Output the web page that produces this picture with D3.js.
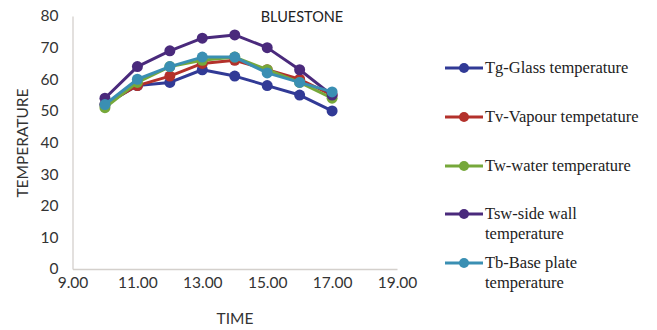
<!DOCTYPE html>
<html>
<head>
<meta charset="utf-8">
<script src="https://cdn.jsdelivr.net/npm/d3@7/dist/d3.min.js"></script>
<style>
  html, body { margin: 0; padding: 0; background: #fff; }
  svg { display: block; }
  .legend-text { font-family: "Liberation Serif", "DejaVu Serif", serif; }
</style>
</head>
<body>
<svg id="chart" width="657" height="330"></svg>
<script>
// Hourly readings (time of day) for the bluestone still
const times = [10, 11, 12, 13, 14, 15, 16, 17];
const tgGlass    = [52, 58, 59, 63, 61, 58, 55, 50];
const tvVapour   = [52, 58, 61, 65, 66, 63, 60, 55];
const twWater    = [51, 59, 64, 66, 67, 63, 59, 54];
const tswWall    = [54, 64, 69, 73, 74, 70, 63, 55];
const tbBase     = [52, 60, 64, 67, 67, 62, 59, 56];

const xTicks = [9, 11, 13, 15, 17, 19];
const yTicks = [0, 10, 20, 30, 40, 50, 60, 70, 80];

const series = [
  { name: ["Tg-Glass temperature"], values: tgGlass, color: "#313a96" },
  { name: ["Tv-Vapour tempetature"], values: tvVapour, color: "#b3312b" },
  { name: ["Tw-water temperature"], values: twWater, color: "#76a83a" },
  { name: ["Tsw-side wall", "temperature"], values: tswWall, color: "#4a2a7c" },
  { name: ["Tb-Base plate", "temperature"], values: tbBase, color: "#3a8fb3" }
];

const svg = d3.select("#chart");
const sans = "Lato, 'Open Sans', sans-serif";

const x = d3.scaleLinear().domain([9, 19]).range([72.5, 397]);
const y = d3.scaleLinear().domain([0, 80]).range([269, 16]);

// Axes: thin grey lines, no tick marks
const xAxis = svg.append("g")
  .attr("transform", `translate(0,${y(0)})`)
  .call(d3.axisBottom(x).tickValues(xTicks).tickSize(0).tickPadding(8)
    .tickFormat(d3.format(".2f")));
const yAxis = svg.append("g")
  .attr("transform", `translate(${x(9)},0)`)
  .call(d3.axisLeft(y).tickValues(yTicks).tickSize(0).tickPadding(14));

[xAxis, yAxis].forEach(g => {
  g.select(".domain").attr("stroke", "#d4d0cc").attr("stroke-width", 1.3);
  g.selectAll("text")
    .attr("font-family", sans)
    .attr("font-size", 15.5)
    .attr("fill", "#333");
});

// Axis titles and chart title
svg.append("text")
  .attr("x", 235).attr("y", 324)
  .attr("text-anchor", "middle")
  .attr("font-family", sans).attr("font-size", 15.5).attr("fill", "#333")
  .text("TIME");
svg.append("text")
  .attr("transform", `translate(28,143) rotate(-90)`)
  .attr("text-anchor", "middle")
  .attr("font-family", sans).attr("font-size", 15.5).attr("fill", "#333")
  .text("TEMPERATURE");
svg.append("text")
  .attr("x", 302).attr("y", 22)
  .attr("text-anchor", "middle")
  .attr("font-family", sans).attr("font-size", 14.5).attr("fill", "#222")
  .text("BLUESTONE");

// Series lines with round markers
const line = d3.line()
  .x((d, i) => x(times[i]))
  .y(d => y(d));

series.forEach(s => {
  const g = svg.append("g");
  g.append("path")
    .datum(s.values)
    .attr("d", line)
    .attr("fill", "none")
    .attr("stroke", s.color)
    .attr("stroke-width", 3)
    .attr("stroke-linejoin", "round");
  g.selectAll("circle")
    .data(s.values)
    .join("circle")
    .attr("cx", (d, i) => x(times[i]))
    .attr("cy", d => y(d))
    .attr("r", 5.5)
    .attr("fill", s.color);
});

// Legend
const legendRows = [68, 117, 166, 214, 263];
const legend = svg.append("g");
series.forEach((s, i) => {
  const ly = legendRows[i];
  const row = legend.append("g");
  row.append("line")
    .attr("x1", 445).attr("x2", 483)
    .attr("y1", ly).attr("y2", ly)
    .attr("stroke", s.color).attr("stroke-width", 3);
  row.append("circle")
    .attr("cx", 464).attr("cy", ly).attr("r", 5)
    .attr("fill", s.color);
  const t = row.append("text")
    .attr("class", "legend-text")
    .attr("x", 485).attr("y", ly + 5)
    .attr("font-size", 16.5).attr("fill", "#222");
  s.name.forEach((part, k) => {
    t.append("tspan")
      .attr("x", 485)
      .attr("dy", k === 0 ? 0 : 19.5)
      .text(part);
  });
});
</script>
</body>
</html>
